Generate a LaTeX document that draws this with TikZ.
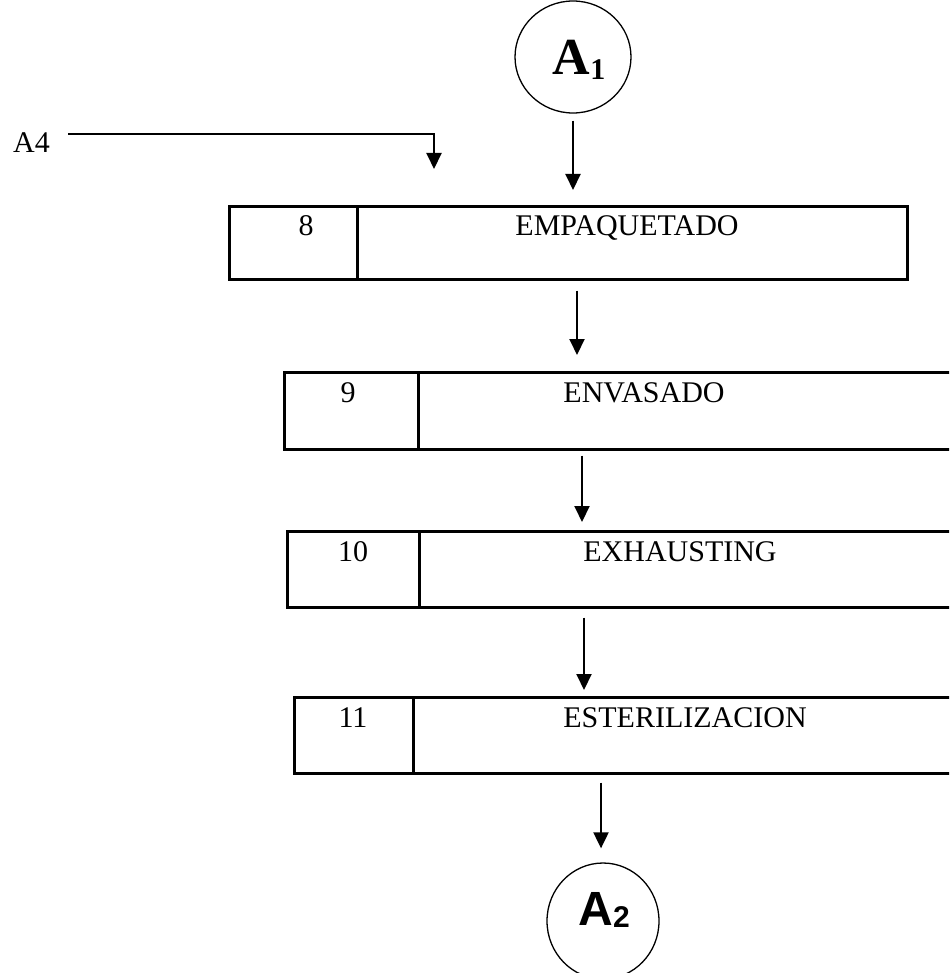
\documentclass[tikz,border=0pt]{standalone}
\usepackage{fontspec}
\setmainfont{Liberation Serif}
\newfontfamily\arialfont{Liberation Sans}
\usetikzlibrary{arrows.meta,shapes.geometric}
\begin{document}
\begin{tikzpicture}[x=1pt,y=-1pt,
  cell/.style={draw, line width=2.6pt, anchor=north west, inner sep=0pt, minimum height=#1},
  lbl/.style={anchor=base, inner sep=0pt, font=\fontsize{30}{36}\selectfont},
  flow/.style={line width=2pt, -{Triangle[width=15pt,length=16pt]}},
  conn/.style={ellipse, draw, line width=1.3pt, inner sep=0pt}]
\useasboundingbox (0,0) rectangle (949,973);
\clip (0,0) rectangle (949,973);

% connectors (circles)
\node[conn, minimum width=116pt, minimum height=112pt] (A1) at (573,57) {};
\node[anchor=base, inner sep=0pt] (A1t) at (579,75)
  {\fontsize{52}{60}\selectfont\bfseries A\raisebox{-5pt}{\fontsize{30}{36}\selectfont\bfseries 1}};
\node[conn, minimum width=112pt, minimum height=116pt] (A2) at (603,921) {};
\node[anchor=base, inner sep=0pt] (A2t) at (604,925)
  {\arialfont\fontsize{48}{56}\selectfont\bfseries A\raisebox{-2pt}{\fontsize{30}{36}\selectfont\bfseries 2}};

% boxes
\node[cell=73pt, minimum width=128pt] (b8)  at (228,205) {};
\node[cell=73pt, minimum width=550pt] (n8)  at (356,205) {};
\node[cell=77pt, minimum width=134pt] (b9)  at (283,371) {};
\node[cell=77pt, minimum width=620pt] (n9)  at (417,371) {};
\node[cell=76pt, minimum width=132pt] (b10) at (286,530) {};
\node[cell=76pt, minimum width=620pt] (n10) at (418,530) {};
\node[cell=76pt, minimum width=119pt] (b11) at (293,696) {};
\node[cell=76pt, minimum width=620pt] (n11) at (412,696) {};

% texts
\node[lbl] (t8)   at (306,236) {8};
\node[lbl] (s8)   at (627,236) {EMPAQUETADO};
\node[lbl] (t9)   at (348,402) {9};
\node[lbl] (s9)   at (644,402) {ENVASADO};
\node[lbl] (t10)  at (353,561) {10};
\node[lbl] (s10)  at (680,561) {EXHAUSTING};
\node[lbl] (t11)  at (353,727) {11};
\node[lbl] (s11)  at (685,727) {ESTERILIZACION};
\node[lbl, anchor=base west] (a4) at (13,153) {A4};

% arrow columns
\coordinate (x1) at (573,0);
\coordinate (x2) at (577,0);
\coordinate (x3) at (582,0);
\coordinate (x4) at (584,0);
\coordinate (x5) at (601,0);

\draw[flow, shorten <=7pt, shorten >=15pt] (A1.south) -- (A1.south |- n8.north);
\draw[flow, shorten <=10pt, shorten >=16pt] (n8.south -| x2) -- (n9.north -| x2);
\draw[flow, shorten <=5pt, shorten >=8pt] (n9.south -| x3) -- (n10.north -| x3);
\draw[flow, shorten <=9pt, shorten >=6pt] (n10.south -| x4) -- (n11.north -| x4);
\draw[flow, shorten <=8pt, shorten >=14pt] (n11.south -| x5) -- (x5 |- A2.north);

% A4 feed
\coordinate (a4s) at (68,134);
\coordinate (a4t) at (434,169);
\draw[flow] (a4s) -| (a4t);
\end{tikzpicture}
\end{document}
